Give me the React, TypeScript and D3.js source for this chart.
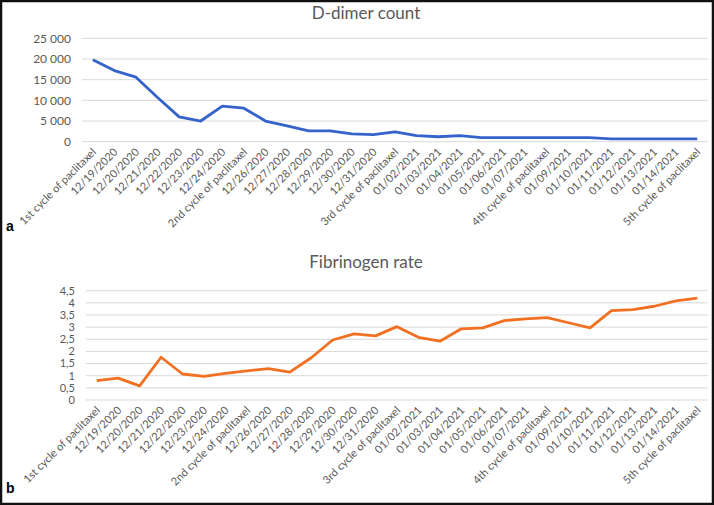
import React from "react";
import * as d3 from "d3";

const categories: string[] = [
  "1st cycle of paclitaxel", "12/19/2020", "12/20/2020", "12/21/2020", "12/22/2020", "12/23/2020", "12/24/2020",
  "2nd cycle of paclitaxel", "12/26/2020", "12/27/2020", "12/28/2020", "12/29/2020", "12/30/2020", "12/31/2020",
  "3rd cycle of paclitaxel", "01/02/2021", "01/03/2021", "01/04/2021", "01/05/2021", "01/06/2021", "01/07/2021",
  "4th cycle of paclitaxel", "01/09/2021", "01/10/2021", "01/11/2021", "01/12/2021", "01/13/2021", "01/14/2021",
  "5th cycle of paclitaxel",
];

const dDimer: number[] = [
  19800, 17200, 15600, 10700, 6000, 5000, 8600, 8100, 5000, 3800, 2600, 2600, 1900, 1700,
  2400, 1450, 1200, 1450, 1000, 1000, 1000, 1000, 1000, 1000, 700, 700, 700, 700, 700,
];

const fibrinogen: number[] = [
  0.8, 0.9, 0.58, 1.76, 1.07, 0.97, 1.1, 1.2, 1.29, 1.15, 1.74, 2.47, 2.72, 2.64,
  3.02, 2.58, 2.42, 2.93, 2.97, 3.27, 3.34, 3.39, 3.18, 2.97, 3.68, 3.72, 3.86, 4.08, 4.19,
];

const dDimerTicks: number[] = [0, 5000, 10000, 15000, 20000, 25000];
const fibTicks: number[] = [0, 0.5, 1, 1.5, 2, 2.5, 3, 3.5, 4, 4.5];

const FONT = "Lato, 'Open Sans', sans-serif";
const GREY = "#595959";

type PanelProps = {
  title: string;
  titleY: number;
  values: number[];
  ticks: number[];
  yMax: number;
  x0: number;
  x1: number;
  yTop: number;
  yBottom: number;
  color: string;
  fmt: (v: number) => string;
  tickFont: number;
  labelX: number;
};

function Panel(p: PanelProps) {
  const x = d3.scaleBand<string>().domain(categories).range([p.x0, p.x1]);
  const y = d3.scaleLinear().domain([0, p.yMax]).range([p.yBottom, p.yTop]);
  const cx = (c: string) => (x(c) as number) + x.bandwidth() / 2;
  const line = d3
    .line<number>()
    .x((_, i) => cx(categories[i]))
    .y((v) => y(v));
  return (
    <g>
      <text x={366} y={p.titleY} textAnchor="middle" fontSize={17} fill={GREY} fontFamily={FONT}>
        {p.title}
      </text>
      {p.ticks.map((t) => (
        <g key={t}>
          <line x1={p.x0} x2={p.x1} y1={y(t)} y2={y(t)} stroke="#d9d9d9" strokeWidth={1} />
          <text
            x={p.labelX}
            y={y(t)}
            dy="0.35em"
            textAnchor="end"
            fontSize={p.tickFont}
            fill={GREY}
            fontFamily={FONT}
          >
            {p.fmt(t)}
          </text>
        </g>
      ))}
      <path d={line(p.values) || ""} fill="none" stroke={p.color} strokeWidth={2.8} strokeLinejoin="round" />
      {categories.map((c) => (
        <text
          key={c}
          transform={`translate(${cx(c) + 4},${p.yBottom + 11}) rotate(-45)`}
          textAnchor="end"
          fontSize={11}
          fill={GREY}
          fontFamily={FONT}
        >
          {c}
        </text>
      ))}
    </g>
  );
}

const fmtThousands = (v: number) => {
  const s = String(v);
  return s.length > 3 ? s.slice(0, s.length - 3) + "\u00a0" + s.slice(s.length - 3) : s;
};
const fmtComma = (v: number) => String(v).replace(".", ",");

export default function App() {
  return (
    <svg
      width={714}
      height={505}
      style={{ position: "fixed", left: 0, top: 0, background: "#fff" }}
    >
      <rect x={0} y={0} width={714} height={505} fill="#fff" />
      <Panel
        title="D-dimer count"
        titleY={19}
        values={dDimer}
        ticks={dDimerTicks}
        yMax={25000}
        x0={82}
        x1={708}
        yTop={38.3}
        yBottom={141.7}
        color="#3563cc"
        fmt={fmtThousands}
        tickFont={12}
        labelX={71}
      />
      <Panel
        title="Fibrinogen rate"
        titleY={268}
        values={fibrinogen}
        ticks={fibTicks}
        yMax={4.5}
        x0={86}
        x1={708}
        yTop={290.7}
        yBottom={400}
        color="#f27022"
        fmt={fmtComma}
        tickFont={11}
        labelX={75}
      />
      <text x={6} y={231} fontSize={14} fontWeight="bold" fontFamily="'Liberation Sans', Arial, sans-serif" fill="#000">
        a
      </text>
      <text x={6} y={493} fontSize={14} fontWeight="bold" fontFamily="'Liberation Sans', Arial, sans-serif" fill="#000">
        b
      </text>
      <rect x={1} y={1} width={712} height={503} fill="none" stroke="#111" strokeWidth={2.5} />
    </svg>
  );
}
